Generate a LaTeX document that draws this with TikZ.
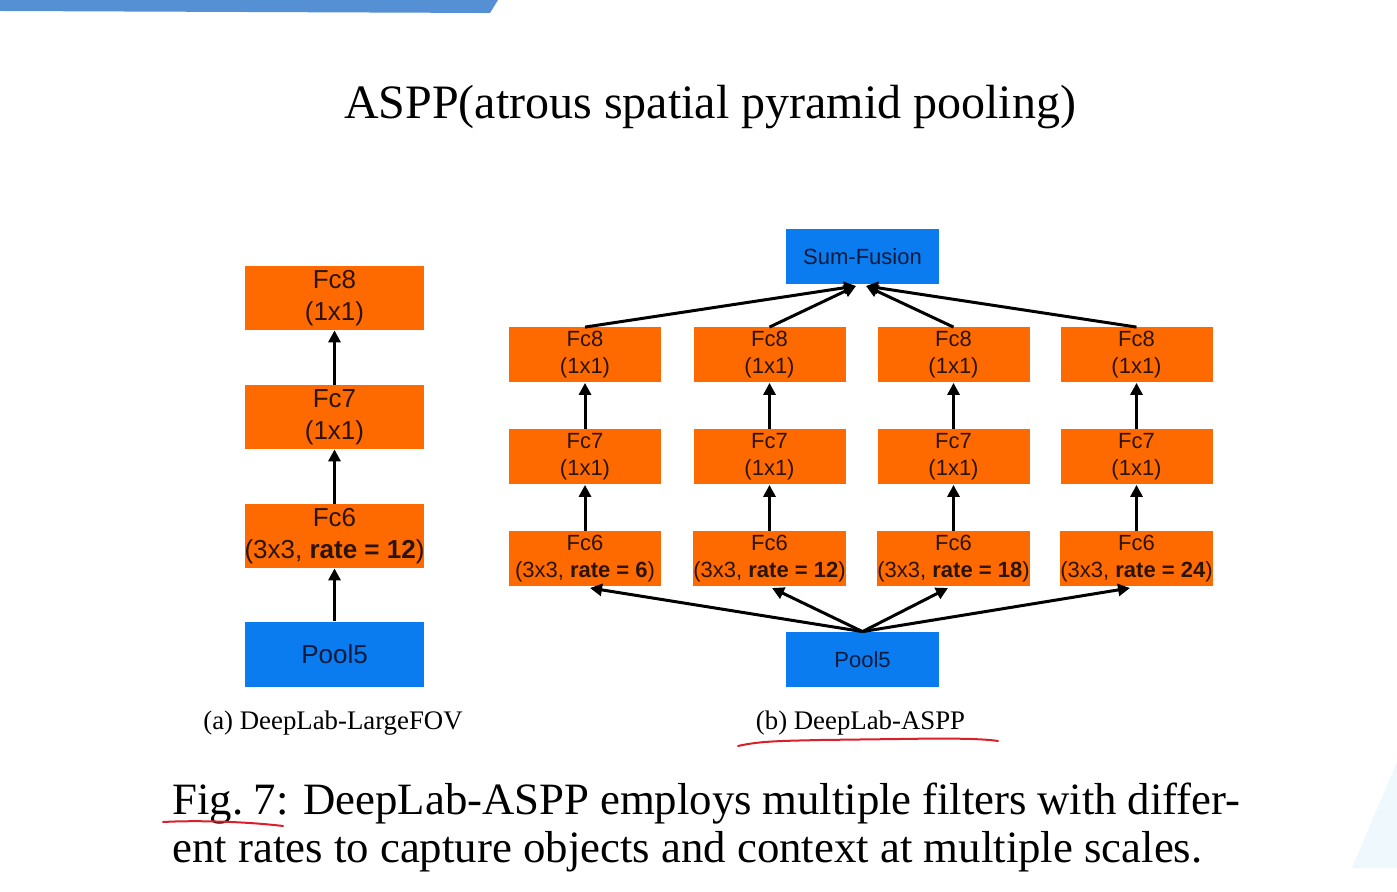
\documentclass[tikz,border=0pt]{standalone}
\usepackage{fontspec}
\setmainfont{Liberation Serif}
\setsansfont{Liberation Sans}
\usetikzlibrary{arrows.meta}
\definecolor{orangebox}{HTML}{FF6A00}
\definecolor{bluebox}{HTML}{0A7CF0}
\definecolor{bartop}{HTML}{5590D5}
\definecolor{palecyan}{HTML}{EEF8FD}
\definecolor{pen}{HTML}{D8202A}
\definecolor{orangetext}{HTML}{2A1406}
\definecolor{bluetext}{HTML}{0A1A3A}
\begin{document}
\begin{tikzpicture}[x=0.5pt,y=-0.5pt,
  obox/.style={fill=orangebox, text=orangetext, inner sep=0pt, align=center,
    font=\sffamily\fontsize{11pt}{13.5pt}\selectfont, minimum width=76pt, minimum height=27.5pt},
  bbox/.style={fill=bluebox, text=bluetext, inner sep=0pt, align=center,
    font=\sffamily\fontsize{11pt}{13.5pt}\selectfont, minimum width=76.5pt, minimum height=27.5pt},
  lobox/.style={obox, font=\sffamily\fontsize{13pt}{16pt}\selectfont, minimum width=89.5pt, minimum height=32pt},
  lbbox/.style={bbox, font=\sffamily\fontsize{13pt}{16pt}\selectfont, minimum width=89.5pt, minimum height=32.5pt},
  arr/.style={line width=1.5pt, -{Triangle[length=6pt,width=6pt]}},
  redpen/.style={draw=pen, line width=1pt, line cap=round, line join=round}]
\useasboundingbox (0,0) rectangle (1397,892);
\fill[white] (0,0) rectangle (1397,892);
% decoration
\fill[bartop] (0,0) -- (498,0) -- (490,13) -- (0,11) -- cycle;
\fill[palecyan] (1397,762) -- (1397,868) -- (1352,868) -- cycle;
% title
\node[anchor=base, font=\fontsize{24pt}{28pt}\selectfont] (title) at (710,119) {ASPP(atrous spatial pyramid pooling)};
% (a) LargeFOV
\node[lobox] (a8) at (334.5,298) {Fc8\\(1x1)};
\node[lobox] (a7) at (334.5,417) {Fc7\\(1x1)};
\node[lobox] (a6) at (334.5,536) {Fc6\\(3x3, \textbf{rate = 12})};
\node[lbbox] (ap) at (334.5,654) {Pool5};
\draw[arr] (ap.north) -- (a6.south);
\draw[arr] (a6.north) -- (a7.south);
\draw[arr] (a7.north) -- (a8.south);
% (b) ASPP
\node[bbox] (sum) at (862.5,256.5) {Sum-Fusion};
\node[bbox] (bp) at (862.5,659.5) {Pool5};
\foreach \i/\x/\r in {1/585/6, 2/769.5/12, 3/953.5/18, 4/1136.5/24} {
  \node[obox] (b8\i) at (\x,355) {Fc8\\(1x1)};
  \node[obox] (b7\i) at (\x,457) {Fc7\\(1x1)};
  \node[obox] (b6\i) at (\x,559) {Fc6\\(3x3, \textbf{rate = \r})};
  \draw[arr] (b6\i.north) -- (b7\i.south);
  \draw[arr] (b7\i.north) -- (b8\i.south);
}
\coordinate (sL) at (856,286);
\coordinate (sR) at (866,286);
\draw[arr] (b81.north) -- (sL);
\draw[arr] (b82.north) -- (sL);
\draw[arr] (b83.north) -- (sR);
\draw[arr] (b84.north) -- (sR);
\coordinate (h1) at (590,588);
\coordinate (h2) at (772,588);
\coordinate (h3) at (948,588);
\coordinate (h4) at (1130,588);
\foreach \i in {1,2,3,4} \draw[arr] (bp.north) -- (h\i);
% captions
\node[anchor=base, font=\fontsize{13.4pt}{16pt}\selectfont] (capa) at (333,729) {(a) DeepLab-LargeFOV};
\node[anchor=base, font=\fontsize{13.4pt}{16pt}\selectfont] (capb) at (860.5,729) {(b) DeepLab-ASPP};
\node[anchor=base west, inner sep=0pt, font=\fontsize{22.4pt}{26pt}\selectfont] (fig1) at (172,814)
  {\hbox to 534pt{Fig.\ 7: DeepLab-ASPP employs multiple filters with differ-}};
\node[anchor=base west, inner sep=0pt, font=\fontsize{22.4pt}{26pt}\selectfont] (fig2) at (172,862)
  {ent rates to capture objects and context at multiple scales.};
% red pen marks
\draw[redpen] (738,746) .. controls (760,741) and (780,741) .. (820,740) -- (900,739) .. controls (960,738) and (985,739) .. (998,741);
\draw[redpen] (163,822) .. controls (200,820) and (250,822) .. (283,826);
\end{tikzpicture}
\end{document}
